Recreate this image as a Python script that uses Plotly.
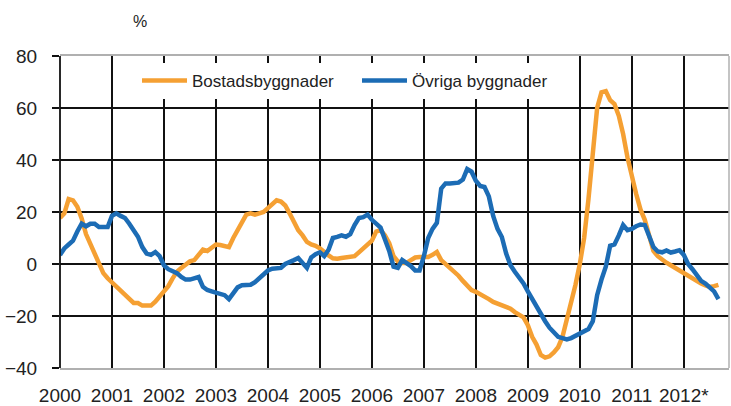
import plotly.graph_objects as go

# Monthly values, Jan 2000 .. Sep 2012 (%)
bostad = [
    17.7, 19.5, 25, 24.5, 22, 17.5, 11.5, 8, 4.5, 0, -3.5, -5.5,
    -7, -8.5, -10, -11.5, -13.5, -15, -15, -16, -16, -16, -14.5, -12.5,
    -11, -8.5, -5.5, -3, -1.5, 0, 1, 1.5, 3.5, 5.5, 5, 6.5,
    7.5, 7.3, 7, 6.5, 10, 13, 16, 19, 19.5, 19, 19.5, 20,
    21.5, 23, 24.5, 24, 22.5, 19.5, 16, 13, 11, 8.5, 7.5, 7,
    6, 4.5, 3.3, 2.2, 2, 2.3, 2.5, 2.6, 3, 4.5, 6, 7.3,
    9, 12.5, 13, 11, 8, 3, 1, 0.4, 0.4, 1.5, 2.5, 2.7,
    2.7, 2.7, 3.5, 4.6, 1.5, 0, -1, -3, -4.5, -6.5, -8.5, -10,
    -10.7, -11.5, -12.5, -13.5, -14.6, -15.3, -15.8, -16.5, -17.2, -18.5, -19.5, -20.5,
    -23.5, -28, -31, -35, -36, -35.5, -34, -32, -28, -21.5, -15, -8,
    0, 10, 25, 42, 60, 66, 66.5, 63, 61.5, 57, 50, 41,
    33, 27, 21, 17, 11, 5, 3, 1.5, 0.5, -0.5, -1.5, -2.5,
    -4, -5, -6, -7, -7.5, -8.2, -8.8, -8.5, -8,
]
ovriga = [
    3.5, 6, 7.5, 9, 12.5, 15.5, 14.5, 15.5, 15.5, 14.2, 14.2, 14.2,
    18.5, 19.5, 18.5, 17.7, 15.5, 13, 10.5, 6.5, 4, 3.5, 4.6, 3,
    -0.5, -2, -2.8, -3.5, -5, -6, -6, -5.5, -5, -8.8, -10, -10.5,
    -11, -11.2, -12, -13.5, -11, -9, -8.2, -8.2, -8, -7, -5.5, -4,
    -2.5, -1.8, -1.5, -1.5, 0, 0.6, 1.5, 2.3, 0.5, -1.5, 2.5, 3.8,
    4.5, 3, 5.5, 10, 10.4, 11, 10.5, 11.5, 15, 17.7, 18, 19,
    17, 15.5, 14, 9.5, 5, -1, -1.5, 1.5, 0.5, -0.8, -2.5, -2.5,
    3, 10, 13.5, 15.8, 29, 31, 31, 31, 31.3, 32.5, 36.5, 35.5,
    32, 30, 29.6, 26, 18.5, 13.5, 10.4, 4, -0.5, -3, -5, -7.5,
    -10.5, -13.5, -16.5, -19, -22, -24.5, -26.5, -28, -28.5, -29, -28.5, -27.5,
    -26.5, -25.8, -25, -22, -12, -6, -1, 7, 7.5, 11, 15, 13,
    13.5, 14.5, 15.2, 15, 10.5, 6.5, 4.8, 4.5, 5.2, 4.4, 4.8, 5.3,
    3.5, 0, -2, -4.5, -6.5, -7.5, -8.8, -10.5, -13.5,
]
series_names = ["Bostadsbyggnader", "Övriga byggnader"]
year_ticks = list(range(2000, 2013))
year_labels = [str(y) for y in range(2000, 2012)] + ["2012*"]
y_ticks = [-40, -20, 0, 20, 40, 60, 80]

x = [2000 + i / 12 for i in range(len(bostad))]

FONT = "Liberation Sans, Arial, sans-serif"
GRID = "#111111"
fig = go.Figure()
fig.add_trace(go.Scatter(x=x, y=bostad, mode="lines", name=series_names[0],
                         line=dict(color="#F5A033", width=4.5), legend="legend"))
fig.add_trace(go.Scatter(x=x, y=ovriga, mode="lines", name=series_names[1],
                         line=dict(color="#1C6CB5", width=4.5), legend="legend2"))

leg_common = dict(orientation="h", y=0.978, xanchor="left", yanchor="top",
                  bgcolor="white", font=dict(size=17, color="#222"), itemwidth=45)
fig.update_layout(
    width=731, height=406,
    margin=dict(l=60, r=2, t=56, b=38, autoexpand=False),
    paper_bgcolor="white", plot_bgcolor="white",
    font=dict(family=FONT, size=19, color="#222"),
    showlegend=True,
    legend=dict(x=(137 - 60) / 669, **leg_common),
    legend2=dict(x=(357 - 60) / 669, **leg_common),
    annotations=[dict(text="%", xref="paper", yref="paper", x=(140 - 60) / 669,
                      y=1 + (56 - 22) / 312, showarrow=False,
                      font=dict(size=16, color="#222"), xanchor="center", yanchor="middle")],
)
fig.update_xaxes(range=[2000, 2012.87], tickmode="array", tickvals=year_ticks,
                 ticktext=year_labels, showgrid=True, gridcolor=GRID, gridwidth=1.6,
                 showline=True, linecolor="#b0b0b0", linewidth=1.5, mirror=True,
                 ticks="", zeroline=False, tickfont=dict(size=19),
                 ticklabelstandoff=9, automargin=False)
fig.update_yaxes(range=[-40, 80], tickvals=y_ticks, showgrid=True, gridcolor=GRID,
                 gridwidth=1.6, zeroline=True, zerolinecolor=GRID, zerolinewidth=1.6,
                 showline=False, ticks="outside", ticklen=7, tickcolor=GRID,
                 tickwidth=1.6, tickfont=dict(size=19), ticklabelstandoff=11,
                 automargin=False)
# left axis line (black) and right frame (gray)
fig.add_shape(type="line", xref="paper", yref="paper", x0=0, x1=0, y0=0, y1=1,
              line=dict(color=GRID, width=1.8))
fig.add_shape(type="line", xref="paper", yref="paper", x0=1, x1=1, y0=0, y1=1,
              line=dict(color="#b0b0b0", width=1.5))
fig.write_html("out.html", config={"displayModeBar": False},
               post_script="document.body.style.margin='0';document.body.style.padding='0';")
